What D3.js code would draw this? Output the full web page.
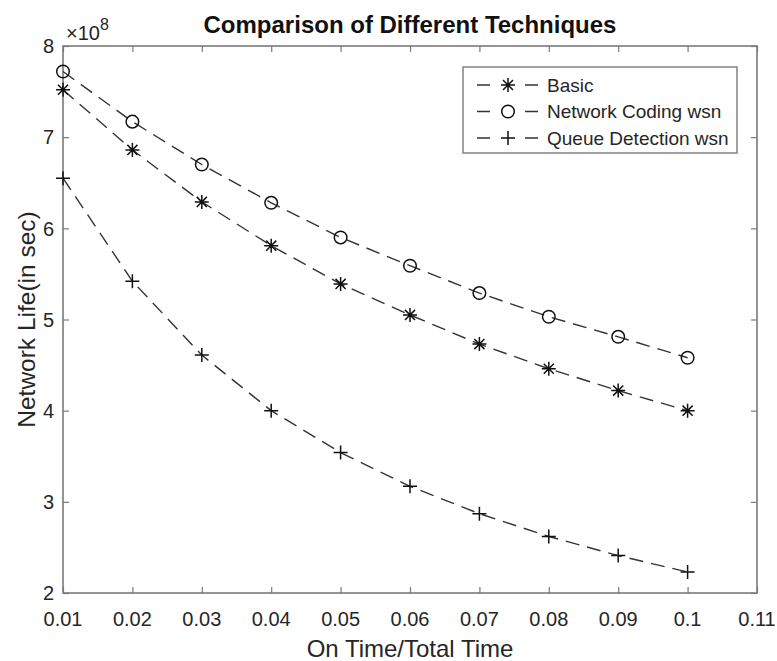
<!DOCTYPE html>
<html>
<head>
<meta charset="utf-8">
<script src="https://cdn.jsdelivr.net/npm/d3@7"></script>
<style>
body { margin: 0; background: #fff; }
text { font-family: "Liberation Sans", Arial, sans-serif; fill: #262626; }
</style>
</head>
<body>
<svg id="chart" width="777" height="661"></svg>
<script>
/************************************ Data *******************************/
var onTime = [0.01, 0.02, 0.03, 0.04, 0.05, 0.06, 0.07, 0.08, 0.09, 0.1];
var basic = [7.52e8, 6.86e8, 6.29e8, 5.81e8, 5.39e8, 5.05e8, 4.73e8, 4.46e8, 4.22e8, 4.00e8];
var networkCoding = [7.72e8, 7.17e8, 6.70e8, 6.28e8, 5.90e8, 5.59e8, 5.29e8, 5.03e8, 4.81e8, 4.58e8];
var queueDetection = [6.55e8, 5.42e8, 4.61e8, 4.00e8, 3.54e8, 3.17e8, 2.87e8, 2.62e8, 2.41e8, 2.23e8];
var seriesNames = ["Basic", "Network Coding wsn", "Queue Detection wsn"];
var markerTypes = ["star", "circle", "plus"];
var xTicks = [0.01, 0.02, 0.03, 0.04, 0.05, 0.06, 0.07, 0.08, 0.09, 0.1, 0.11];
var yTicks = [2e8, 3e8, 4e8, 5e8, 6e8, 7e8, 8e8];

/************************************ Layout *******************************/
var plotLeft = 63, plotRight = 757, plotTop = 46, plotBottom = 593;
var svg = d3.select("#chart");
var x = d3.scaleLinear().domain([0.01, 0.11]).range([plotLeft, plotRight]);
var y = d3.scaleLinear().domain([2e8, 8e8]).range([plotBottom, plotTop]);
var axisColor = "#7a7a7a";

// marker shapes, centred on 0,0
function markerPath(type) {
	var r = 7;
	if (type == "plus") return "M" + (-r) + ",0H" + r + "M0," + (-r) + "V" + r;
	if (type == "star") {
		var d = r * 0.72;
		return "M" + (-r) + ",0H" + r + "M0," + (-r) + "V" + r +
			"M" + (-d) + "," + (-d) + "L" + d + "," + d + "M" + (-d) + "," + d + "L" + d + "," + (-d);
	}
	var p = d3.path(); p.arc(0, 0, 6.3, 0, 2 * Math.PI); p.closePath();
	return p.toString();
}

function styleTicks(g) {
	g.select(".domain").remove();
	g.selectAll("line").attr("stroke", axisColor).attr("stroke-width", 1.2);
}

/************************************ Axes *******************************/
// ticks (inside, on all four sides)
svg.append("g").attr("transform", "translate(0," + plotBottom + ")")
	.call(d3.axisBottom(x).tickValues(xTicks).tickSizeInner(-6).tickSizeOuter(0).tickFormat(""))
	.call(styleTicks);
svg.append("g").attr("transform", "translate(0," + plotTop + ")")
	.call(d3.axisTop(x).tickValues(xTicks).tickSizeInner(-6).tickSizeOuter(0).tickFormat(""))
	.call(styleTicks);
svg.append("g").attr("transform", "translate(" + plotLeft + ",0)")
	.call(d3.axisLeft(y).tickValues(yTicks).tickSizeInner(-6).tickSizeOuter(0).tickFormat(""))
	.call(styleTicks);
svg.append("g").attr("transform", "translate(" + plotRight + ",0)")
	.call(d3.axisRight(y).tickValues(yTicks).tickSizeInner(-6).tickSizeOuter(0).tickFormat(""))
	.call(styleTicks);

// tick labels
svg.append("g").selectAll("text").data(xTicks).enter().append("text")
	.attr("x", function(d) { return x(d); }).attr("y", 626)
	.attr("text-anchor", "middle").style("font-size", "20px")
	.text(function(d) { return d3.format("~g")(d); });
svg.append("g").selectAll("text").data(yTicks).enter().append("text")
	.attr("x", 54).attr("y", function(d) { return y(d); }).attr("dy", "0.36em")
	.attr("text-anchor", "end").style("font-size", "20px")
	.text(function(d) { return d / 1e8; });

// exponent
var expo = svg.append("text").attr("x", 66).attr("y", 40).style("font-size", "20px");
expo.append("tspan").text("\u00d710");
expo.append("tspan").attr("dy", -10).style("font-size", "16px").text("8");

// box
svg.append("rect").attr("x", plotLeft).attr("y", plotTop)
	.attr("width", plotRight - plotLeft).attr("height", plotBottom - plotTop)
	.attr("fill", "none").attr("stroke", axisColor).attr("stroke-width", 1.6);

// labels
svg.append("text").attr("x", (plotLeft + plotRight) / 2).attr("y", 33).attr("text-anchor", "middle")
	.style("font-size", "24px").style("font-weight", "bold").style("fill", "#111")
	.text("Comparison of Different Techniques");
svg.append("text").attr("x", (plotLeft + plotRight) / 2).attr("y", 657).attr("text-anchor", "middle")
	.style("font-size", "24px").text("On Time/Total Time");
svg.append("text").attr("transform", "translate(35," + ((plotTop + plotBottom) / 2) + ") rotate(-90)")
	.attr("text-anchor", "middle")
	.style("font-size", "24.5px").text("Network Life(in sec)");

/************************************ Series *******************************/
var allSeries = [basic, networkCoding, queueDetection];
var line = d3.line().x(function(d, i) { return x(onTime[i]); }).y(function(d) { return y(d); });

allSeries.forEach(function(vals, k) {
	svg.append("path").datum(vals).attr("d", line)
		.attr("fill", "none").attr("stroke", "#333").attr("stroke-width", 1.4)
		.attr("stroke-dasharray", "14,8");
	svg.append("g").selectAll("path").data(vals).enter().append("path")
		.attr("d", markerPath(markerTypes[k]))
		.attr("transform", function(d, i) { return "translate(" + x(onTime[i]) + "," + y(d) + ")"; })
		.attr("fill", "none").attr("stroke", "#111").attr("stroke-width", 1.5);
});

/************************************ Legend *******************************/
var legend = svg.append("g").attr("transform", "translate(463,67)");
legend.append("rect").attr("width", 274).attr("height", 86)
	.attr("fill", "#fff").attr("stroke", axisColor).attr("stroke-width", 1.4);
seriesNames.forEach(function(name, k) {
	var row = legend.append("g").attr("transform", "translate(0," + (18 + k * 26.5) + ")");
	row.append("line").attr("x1", 14).attr("x2", 75).attr("y1", 0).attr("y2", 0)
		.attr("stroke", "#333").attr("stroke-width", 1.4).attr("stroke-dasharray", "13,35,13");
	row.append("path").attr("d", markerPath(markerTypes[k])).attr("transform", "translate(45,0)")
		.attr("fill", "none").attr("stroke", "#111").attr("stroke-width", 1.5);
	row.append("text").attr("x", 84).attr("dy", "0.36em").style("font-size", "19px").text(name);
});
</script>
</body>
</html>
